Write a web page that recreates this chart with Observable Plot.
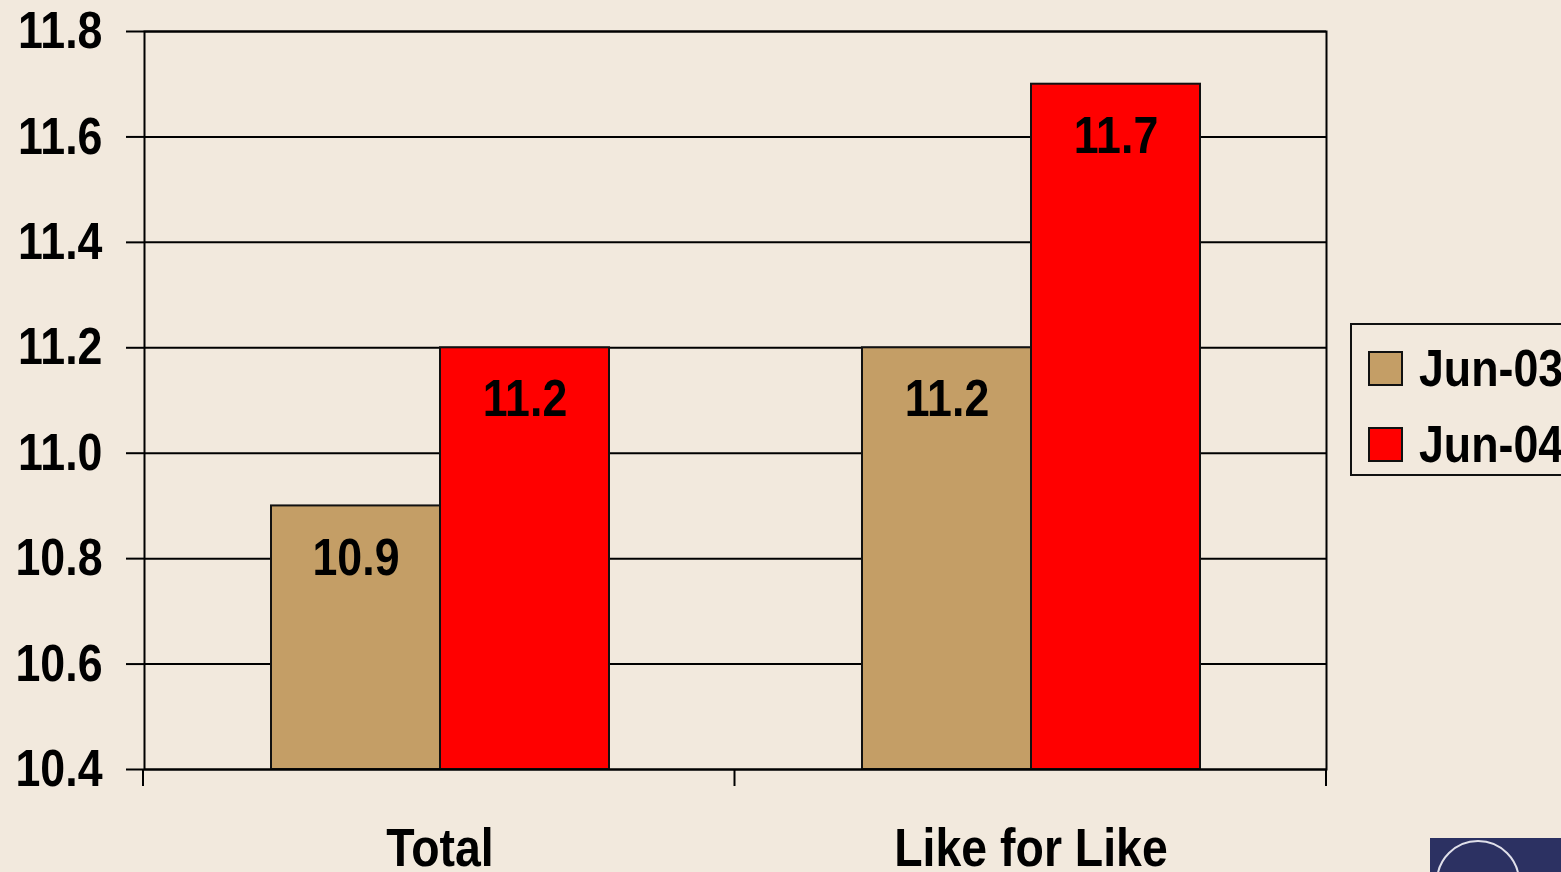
<!DOCTYPE html>
<html>
<head>
<meta charset="utf-8">
<script src="https://cdn.jsdelivr.net/npm/d3@7"></script>
<script src="https://cdn.jsdelivr.net/npm/@observablehq/plot@0.6"></script>
<style>
  html, body { margin: 0; padding: 0; background: #F2E9DD; overflow: hidden; }
  #wrap { position: relative; width: 1561px; height: 872px; overflow: hidden; }
  .f { font-family: "Liberation Sans", Arial, sans-serif; font-weight: bold; }
  #legend { position: absolute; left: 1350px; top: 323px; width: 240px; height: 149px; border: 2px solid #111; box-sizing: content-box; }
  .item { position: absolute; left: 16px; height: 40px; display: flex; align-items: center; font-size: 52px; color: #000; }
  .sw { width: 31px; height: 31px; border: 2px solid #111; margin-right: 16px; flex: none; }
  .lab { display: inline-block; transform: scaleX(0.86); transform-origin: left center; white-space: nowrap; }
  #logo { position: absolute; left: 1430px; top: 838px; width: 140px; height: 40px; background: #2C3162; overflow: hidden; }
  #logo .ring { position: absolute; left: 6px; top: 2px; width: 80px; height: 80px; border-radius: 50%; border: 2px solid #E0E0EA; }
</style>
</head>
<body>
<div id="wrap" class="f">
  <div id="chart"></div>
  <div id="legend"></div>
  <div id="logo"><div class="ring"></div></div>
</div>
<script>
const categories = ["Total", "Like for Like"];
const series = ["Jun-03", "Jun-04"];
const jun03 = [10.9, 11.2];
const jun04 = [11.2, 11.7];
const yTicks = [10.4, 10.6, 10.8, 11.0, 11.2, 11.4, 11.6, 11.8];
const colors = ["#C49E66", "#FF0000"];

const yDomain = [yTicks[0], yTicks[yTicks.length - 1]];
const data = categories.flatMap((c, i) => [
  {cat: c, series: series[0], value: jun03[i]},
  {cat: c, series: series[1], value: jun04[i]}
]);

const font = '"Liberation Sans", Arial, sans-serif';

const fig = Plot.plot({
  width: 1561,
  height: 872,
  marginLeft: 143,
  marginRight: 235,
  marginTop: 31,
  marginBottom: 103,
  style: {background: "transparent", fontFamily: font, fontWeight: "bold", fontSize: "52px", color: "#000"},
  fx: {domain: categories, padding: 0, label: null},
  x: {domain: series, paddingInner: 0, paddingOuter: 0.74, axis: null},
  y: {domain: yDomain, label: null},
  color: {domain: series, range: colors},
  marks: [
    Plot.ruleY(yTicks, {stroke: "#000", strokeWidth: 2}),
    Plot.barY(data, {fx: "cat", x: "series", y1: () => yDomain[0], y2: "value", fill: "series", stroke: "#111", strokeWidth: 2}),
    Plot.text(data, {fx: "cat", x: "series", y: "value", text: d => d.value.toFixed(1), dy: 52, fontSize: 52, fontWeight: "bold", fill: "#000"}),
    Plot.axisY({ticks: yTicks, tickSize: 18, tickPadding: 24, fontSize: 52, fontWeight: "bold", tickFormat: d => d.toFixed(1), label: null, stroke: "#000", strokeWidth: 2}),
    Plot.axisFx({anchor: "bottom", tickSize: 0, tickPadding: 58, fontSize: 54, fontWeight: "bold", label: null}),
    Plot.frame({facet: "super", stroke: "#000", strokeWidth: 2})
  ]
});
document.getElementById("chart").appendChild(fig);

// narrow the bold type horizontally (Arial Narrow look) about each text's own anchor
d3.select(fig).selectAll("text").each(function () {
  const t = this.getAttribute("transform") || "";
  this.setAttribute("transform", (t + " scale(0.86,1)").trim());
});

// category boundary ticks on the x axis, from the library's own scales
(function () {
  const fxs = fig.scale("fx");
  const ys = fig.scale("y");
  if (!fxs || !ys) return;
  const band = d3.scaleBand().domain(fxs.domain).range(fxs.range).padding(0);
  const yl = d3.scaleLinear().domain(ys.domain).range(ys.range);
  const edges = fxs.domain.map(d => band(d)).concat([band.range()[1]]);
  const g = d3.select(fig).append("g");
  g.selectAll("line").data(edges).join("line")
    .attr("x1", d => d).attr("x2", d => d)
    .attr("y1", yl(yDomain[0])).attr("y2", yl(yDomain[0]) + 17)
    .attr("stroke", "#000").attr("stroke-width", 2);
})();

// legend
const legend = d3.select("#legend");
series.forEach((s, i) => {
  const it = legend.append("div").attr("class", "item").style("top", (23 + i * 76) + "px");
  it.append("div").attr("class", "sw").style("background", colors[i]);
  it.append("span").attr("class", "lab").text(s);
});
</script>
</body>
</html>
